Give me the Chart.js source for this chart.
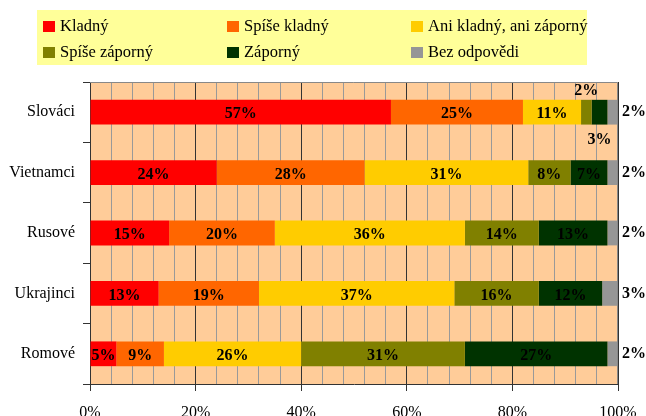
<!DOCTYPE html>
<html>
<head>
<meta charset="utf-8">
<script src="https://cdn.jsdelivr.net/npm/chart.js@4"></script>
<style>
  body { margin: 0; background: #fff; }
  #wrap { position: relative; width: 646px; height: 416px; }
  #legend {
    position: absolute; left: 37px; top: 10px; width: 550px; height: 55px;
    background: #FFFF99; font-family: 'Liberation Serif', serif; font-size: 16.5px; color: #000;
  }
  .item { position: absolute; height: 18px; line-height: 18px; white-space: nowrap; }
  .item span { display: inline-block; width: 12px; height: 11px; margin-right: 5px; vertical-align: -1px; }
</style>
</head>
<body>
<div id="wrap">
  <canvas id="chart" width="646" height="416"></canvas>
  <div id="legend"></div>
</div>
<script>
const categories = ['Slováci', 'Vietnamci', 'Rusové', 'Ukrajinci', 'Romové'];
const seriesNames = ['Kladný', 'Spíše kladný', 'Ani kladný, ani záporný', 'Spíše záporný', 'Záporný', 'Bez odpovědi'];
const kladny = [57, 24, 15, 13, 5];
const spiseKladny = [25, 28, 20, 19, 9];
const aniAni = [11, 31, 36, 37, 26];
const spiseZaporny = [2, 8, 14, 16, 31];
const zaporny = [3, 7, 13, 12, 27];
const bezOdpovedi = [2, 2, 2, 3, 2];
const xTicks = [0, 20, 40, 60, 80, 100];

const colors = ['#FF0000', '#FF6600', '#FFCC00', '#808000', '#003300', '#969696'];
const values = [kladny, spiseKladny, aniAni, spiseZaporny, zaporny, bezOdpovedi];

// legend in 3 columns like the original
const legend = document.getElementById('legend');
const colX = [6, 190, 374];
const rowY = [7, 33];
seriesNames.forEach((name, i) => {
  const d = document.createElement('div');
  d.className = 'item';
  d.style.left = colX[i % 3] + 'px';
  d.style.top = rowY[Math.floor(i / 3)] + 'px';
  d.innerHTML = '<span style="background:' + colors[i] + '"></span>' + name;
  legend.appendChild(d);
});

const plotBg = {
  id: 'plotBg',
  beforeDraw(chart) {
    const { ctx, chartArea: a } = chart;
    ctx.save();
    ctx.fillStyle = '#FFCC99';
    ctx.fillRect(a.left, a.top, a.right - a.left, a.bottom - a.top);
    ctx.restore();
  },
  afterDraw(chart) {
    const { ctx, chartArea: a } = chart;
    ctx.save();
    ctx.strokeStyle = '#888';
    ctx.lineWidth = 1;
    ctx.beginPath();
    ctx.moveTo(a.left, a.top + 0.5);
    ctx.lineTo(a.right - 0.5, a.top + 0.5);
    ctx.lineTo(a.right - 0.5, a.bottom);
    ctx.stroke();
    ctx.restore();
  }
};

const barLabels = {
  id: 'barLabels',
  afterDatasetsDraw(chart) {
    const { ctx, chartArea: a } = chart;
    ctx.save();
    ctx.font = 'bold 16px "Liberation Serif"';
    ctx.fillStyle = '#000';
    ctx.textBaseline = 'middle';
    chart.data.datasets.forEach((ds, di) => {
      const meta = chart.getDatasetMeta(di);
      meta.data.forEach((bar, i) => {
        const txt = ds.data[i] + '%';
        const w = Math.abs(bar.x - bar.base);
        const cx = (bar.x + bar.base) / 2;
        const tw = ctx.measureText(txt).width;
        if (di === 5) {
          ctx.textAlign = 'left';
          ctx.fillText(txt, a.right + 4, bar.y);
        } else if (tw > w + 4) {
          ctx.textAlign = 'center';
          if (di % 2 === 1) ctx.fillText(txt, cx, bar.y - bar.height / 2 - 9);
          else ctx.fillText(txt, cx, bar.y + bar.height / 2 + 15);
        } else {
          ctx.textAlign = 'center';
          ctx.fillText(txt, cx, bar.y + 2);
        }
      });
    });
    ctx.restore();
  }
};

new Chart(document.getElementById('chart'), {
  type: 'bar',
  data: {
    labels: categories,
    datasets: values.map((v, i) => ({
      label: seriesNames[i],
      data: v,
      backgroundColor: colors[i],
      borderWidth: 0,
      categoryPercentage: 1,
      barPercentage: 0.41
    }))
  },
  options: {
    indexAxis: 'y',
    responsive: false,
    animation: false,
    layout: { padding: { top: 82, right: 28, left: 0, bottom: 0 } },
    plugins: { legend: { display: false }, tooltip: { enabled: false } },
    scales: {
      x: {
        stacked: true,
        min: 0,
        max: 100,
        afterFit(s) { s.height = 32; s.paddingLeft = 0; s.paddingRight = 0; },
        afterBuildTicks(s) {
          s.ticks = [];
          for (let v = 0; v <= 100; v += 4) s.ticks.push({ value: v });
        },
        border: { color: '#333', width: 1 },
        grid: {
          color: c => (c.tick && xTicks.includes(c.tick.value)) ? '#333' : '#999',
          tickColor: c => (c.tick && xTicks.includes(c.tick.value)) ? '#333' : 'rgba(0,0,0,0)',
          tickLength: 7
        },
        ticks: {
          autoSkip: false,
          maxRotation: 0,
          padding: 12,
          color: '#000',
          font: { family: 'Liberation Serif', size: 16 },
          callback: v => xTicks.includes(v) ? v + '%' : ''
        }
      },
      y: {
        stacked: true,
        afterFit(s) { s.width = 90; },
        border: { color: '#333', width: 1 },
        grid: { drawOnChartArea: false, tickLength: 7, color: '#333', offset: true },
        ticks: {
          padding: 8,
          color: '#000',
          font: { family: 'Liberation Serif', size: 16 }
        }
      }
    }
  },
  plugins: [plotBg, barLabels]
});
</script>
</body>
</html>
